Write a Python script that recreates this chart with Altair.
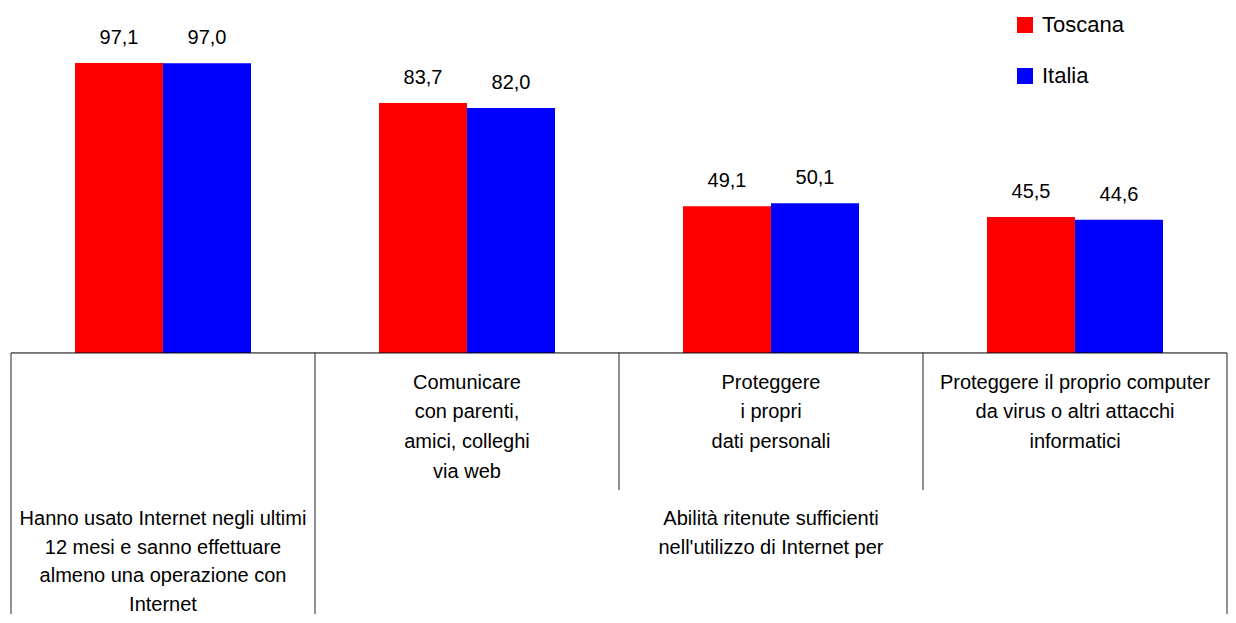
import altair as alt
import pandas as pd

FONT = "Liberation Sans, Arial, sans-serif"

# ---- data -------------------------------------------------------------
categories = ["c1", "c2", "c3", "c4"]
series = ["Toscana", "Italia"]
colors = ["#FF0000", "#0000FF"]
toscana = [97.1, 83.7, 49.1, 45.5]
italia = [97.0, 82.0, 50.1, 44.6]

# table below the bars (text per cell, in category units for x)
top_cell_centers = [1.5, 2.5, 3.5]
top_cell_lines = [
    ["Comunicare", "con parenti,", "amici, colleghi", "via web"],
    ["Proteggere", "i propri", "dati personali"],
    ["Proteggere il proprio computer", "da virus o altri attacchi", "informatici"],
]
bottom_cell_centers = [0.5, 2.5]
bottom_cell_lines = [
    ["Hanno usato Internet negli ultimi", "12 mesi e sanno effettuare",
     "almeno una operazione con", "Internet"],
    ["Abilità ritenute sufficienti", "nell'utilizzo di Internet per"],
]
# table grid: boundaries (category units) and whether the line is full height
boundaries = [0, 1, 2, 3, 4]
full_height = [True, True, False, False, True]

# ---- layout constants ------------------------------------------------
Y_MIN, Y_MAX = -87.4, 115.5
SHORT_BOTTOM = -45.9
TOP_START, TOP_STEP = -10.0, 9.9
BOTTOM_START, BOTTOM_STEP = -55.6, 9.6

rows = []
for i, c in enumerate(categories):
    for s, vals in zip(series, [toscana, italia]):
        v = vals[i]
        rows.append({"cat": c, "series": s, "value": v,
                     "label": f"{v:.1f}".replace(".", ",")})
bars_df = pd.DataFrame(rows)

text_rows = []
for cx, lines in zip(top_cell_centers, top_cell_lines):
    for j, t in enumerate(lines):
        text_rows.append({"cx": cx, "ly": TOP_START - j * TOP_STEP, "t": t})
for cx, lines in zip(bottom_cell_centers, bottom_cell_lines):
    for j, t in enumerate(lines):
        text_rows.append({"cx": cx, "ly": BOTTOM_START - j * BOTTOM_STEP, "t": t})
text_df = pd.DataFrame(text_rows)

vlines_df = pd.DataFrame({
    "bx": boundaries,
    "y1": [0] * len(boundaries),
    "y2": [Y_MIN if f else SHORT_BOTTOM for f in full_height],
})
hline_df = pd.DataFrame({"x1": [boundaries[0]], "x2": [boundaries[-1]], "y": [0]})

yscale = alt.Scale(domain=[Y_MIN, Y_MAX], nice=False, zero=False)
xband = alt.X("cat:N", sort=categories, axis=None,
              scale=alt.Scale(paddingInner=0, paddingOuter=0))
xoff = alt.XOffset("series:N", sort=series,
                   scale=alt.Scale(paddingInner=0, paddingOuter=0.727))
xlin = alt.Scale(domain=[0, 4], nice=False, zero=False)

bars = alt.Chart(bars_df).mark_bar().encode(
    x=xband,
    xOffset=xoff,
    y=alt.Y("value:Q", scale=yscale, axis=None),
    color=alt.Color(
        "series:N", sort=series, title=None,
        scale=alt.Scale(domain=series, range=colors),
        legend=alt.Legend(orient="none", legendX=1003, legendY=6,
                          symbolType="square", symbolSize=256,
                          symbolStrokeWidth=0, labelFontSize=22,
                          labelFont=FONT, labelColor="#000000",
                          labelOffset=6, rowPadding=29, padding=0),
    ),
)

labels = alt.Chart(bars_df).mark_text(
    dy=-25, fontSize=20, font=FONT, color="#000000"
).encode(
    x=xband,
    xOffset=xoff,
    y=alt.Y("value:Q", scale=yscale, axis=None),
    text="label:N",
)

vlines = alt.Chart(vlines_df).mark_rule(color="#222222", strokeWidth=1).encode(
    x=alt.X("bx:Q", scale=xlin, axis=None),
    y=alt.Y("y1:Q", scale=yscale, axis=None),
    y2="y2:Q",
)

hline = alt.Chart(hline_df).mark_rule(color="#000000", strokeWidth=1).encode(
    x=alt.X("x1:Q", scale=xlin, axis=None),
    x2="x2:Q",
    y=alt.Y("y:Q", scale=yscale, axis=None),
)

table_text = alt.Chart(text_df).mark_text(
    fontSize=20, font=FONT, color="#000000"
).encode(
    x=alt.X("cx:Q", scale=xlin, axis=None),
    y=alt.Y("ly:Q", scale=yscale, axis=None),
    text="t:N",
)

chart = alt.layer(bars, labels, vlines, hline, table_text).resolve_scale(
    x="independent"
).properties(
    width=1216,
    height=606,
    padding={"left": 3, "top": 0, "right": 1, "bottom": 1},
    autosize=alt.AutoSizeParams(type="none"),
).configure(font=FONT).configure_view(stroke=None)

chart.save("out.html", embed_options={"renderer": "svg", "actions": False})
